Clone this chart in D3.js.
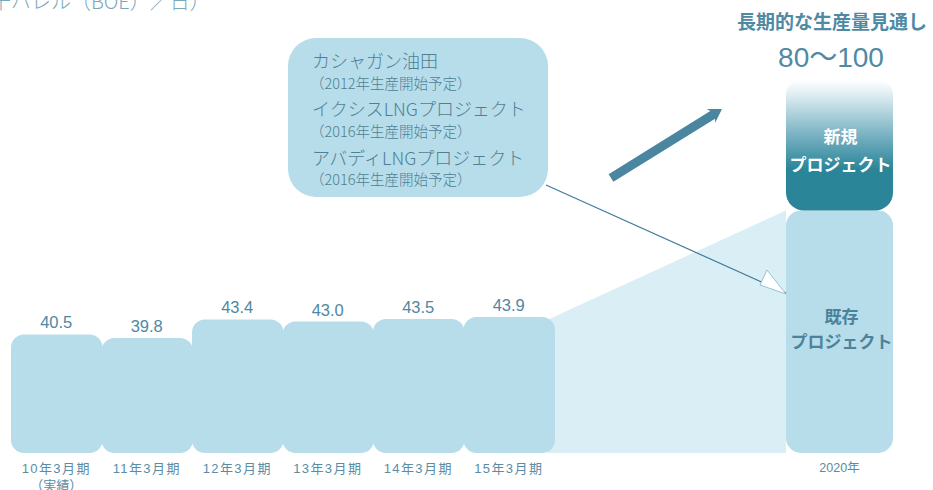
<!DOCTYPE html>
<html>
<head>
<meta charset="utf-8">
<script src="https://cdn.jsdelivr.net/npm/d3@7"></script>
<style>
  html, body { margin: 0; padding: 0; background: #ffffff; }
  svg { display: block; }
</style>
</head>
<body>
<svg id="chart" width="933" height="490"></svg>
<script>
// Production volume (thousand BOE/day) by fiscal period
const categories = ["10年3月期", "11年3月期", "12年3月期", "13年3月期", "14年3月期", "15年3月期"];
const production = [40.5, 39.8, 43.4, 43.0, 43.5, 43.9];
const valueLabels = ["40.5", "39.8", "43.4", "43.0", "43.5", "43.9"];

// 2020 outlook: existing projects plus new projects (range 80–100)
const outlookCategory = ["2020年"];
const outlookExisting = [65];
const outlookRange = [80, 100];
const outlookLabel = "80〜100";

// Projects feeding the new production
const projects = ["カシャガン油田", "イクシスLNGプロジェクト", "アバディLNGプロジェクト"];
const projectNotes = ["（2012年生産開始予定）", "（2016年生産開始予定）", "（2016年生産開始予定）"];

const BAR = "#b6dde9";
const WEDGE = "#daeef5";
const DARK = "#2b8599";
const TEXT = "#4f88a2";
const JP = "'Noto Sans CJK JP', 'Noto Sans', sans-serif";
const NUM = "'Liberation Sans', 'Noto Sans CJK JP', sans-serif";

const svg = d3.select("#chart");
const baseY = 453;

// Scales
const x = d3.scaleBand().domain(categories).range([11, 554]).padding(0);
const y = d3.scaleLinear().domain([17.5, 42.35]).range([baseY, 324.9]);
const xOut = d3.scaleBand().domain(outlookCategory).range([786, 893]);
const yOut = d3.scaleLinear().domain([0, 100]).range([baseY, 80]);

// Unit text (runs off the top edge)
svg.append("text")
  .attr("x", -9).attr("y", 9)
  .attr("font-family", JP).attr("font-size", 20).attr("font-weight", 300)
  .attr("fill", "#7aa8bb")
  .text("千バレル（BOE）／日）");

// Wedge linking the last period to the 2020 column
const last = production.length - 1;
const wedgeTopLeft = [x(categories[last]) + x.bandwidth() - 7, y(production[last]) + 3];
const wedgeTopRight = [xOut(outlookCategory[0]), yOut(outlookExisting[0])];
svg.append("path")
  .attr("d", d3.line()([
    wedgeTopLeft, wedgeTopRight,
    [wedgeTopRight[0], baseY], [wedgeTopLeft[0], baseY]
  ]) + "Z")
  .attr("fill", WEDGE);

function roundedTop(x0, y0, w, h, rt, rb) {
  const p = d3.path();
  p.moveTo(x0 + rt, y0);
  p.lineTo(x0 + w - rt, y0);
  p.arcTo(x0 + w, y0, x0 + w, y0 + rt, rt);
  p.lineTo(x0 + w, y0 + h - rb);
  p.arcTo(x0 + w, y0 + h, x0 + w - rb, y0 + h, rb);
  p.lineTo(x0 + rb, y0 + h);
  p.arcTo(x0, y0 + h, x0, y0 + h - rb, rb);
  p.lineTo(x0, y0 + rt);
  p.arcTo(x0, y0, x0 + rt, y0, rt);
  p.closePath();
  return p.toString();
}

// Historical bars
const barW = x.bandwidth() + 1;
svg.append("g").selectAll("path")
  .data(production)
  .join("path")
  .attr("fill", BAR)
  .attr("d", (d, i) => roundedTop(x(categories[i]), y(d), barW, baseY - y(d), 13, 13));

// Value labels
svg.append("g").selectAll("text")
  .data(production)
  .join("text")
  .attr("x", (d, i) => x(categories[i]) + x.bandwidth() / 2)
  .attr("y", d => y(d) - 6)
  .attr("text-anchor", "middle")
  .attr("font-family", NUM).attr("font-size", 16.5)
  .attr("fill", TEXT)
  .text((d, i) => valueLabels[i]);

// Category labels
svg.append("g").selectAll("text")
  .data(categories)
  .join("text")
  .attr("x", d => x(d) + x.bandwidth() / 2)
  .attr("y", 473)
  .attr("text-anchor", "middle")
  .attr("font-family", NUM).attr("font-size", 13)
  .attr("letter-spacing", 1.4)
  .attr("fill", "#5a8ca3")
  .text(d => d);
svg.append("text")
  .attr("x", x(categories[0]) + x.bandwidth() / 2)
  .attr("y", 490)
  .attr("text-anchor", "middle")
  .attr("font-family", JP).attr("font-size", 13)
  .attr("fill", "#5a8ca3")
  .text("（実績）");

// 2020 column: existing projects
const ox = xOut(outlookCategory[0]);
const ow = xOut.bandwidth();
svg.append("path")
  .attr("fill", BAR)
  .attr("d", roundedTop(ox, yOut(outlookExisting[0]), ow, baseY - yOut(outlookExisting[0]), 15, 15));

// New projects, fading toward the top of the range
const defs = svg.append("defs");
const grad = defs.append("linearGradient")
  .attr("id", "newGrad").attr("x1", 0).attr("y1", 0).attr("x2", 0).attr("y2", 1);
[[0, "#ffffff"], [0.12, "#dcecf1"], [0.42, "#79b2c3"], [0.68, DARK], [1, DARK]]
  .forEach(([o, c]) => grad.append("stop").attr("offset", o).attr("stop-color", c));
const nTop = yOut(outlookRange[1]);
const nBot = yOut(outlookExisting[0]);
svg.append("path")
  .attr("fill", "url(#newGrad)")
  .attr("d", roundedTop(ox, nTop, ow, nBot - nTop, 15, 18));

// Column captions
const cx = ox + ow / 2;
svg.append("text").attr("x", cx + 1).attr("y", 143)
  .attr("text-anchor", "middle").attr("font-family", JP).attr("font-size", 17)
  .attr("font-weight", 700).attr("fill", "#ffffff").text("新規");
svg.append("text").attr("x", cx + 1).attr("y", 171)
  .attr("text-anchor", "middle").attr("font-family", JP).attr("font-size", 17)
  .attr("font-weight", 700).attr("fill", "#ffffff").text("プロジェクト");
svg.append("text").attr("x", cx + 2).attr("y", 323)
  .attr("text-anchor", "middle").attr("font-family", JP).attr("font-size", 17)
  .attr("font-weight", 700).attr("fill", "#4d829c").text("既存");
svg.append("text").attr("x", cx + 2).attr("y", 348)
  .attr("text-anchor", "middle").attr("font-family", JP).attr("font-size", 17)
  .attr("font-weight", 700).attr("fill", "#4d829c").text("プロジェクト");
svg.append("text").attr("x", cx).attr("y", 472)
  .attr("text-anchor", "middle").attr("font-family", NUM).attr("font-size", 12.5)
  .attr("fill", "#5a8ca3").text(outlookCategory[0]);

// Outlook header
svg.append("text").attr("x", 832).attr("y", 29)
  .attr("text-anchor", "middle").attr("font-family", JP).attr("font-size", 19)
  .attr("font-weight", 700).attr("fill", "#4f8aa4").text("長期的な生産量見通し");
svg.append("text").attr("x", 831).attr("y", 67)
  .attr("text-anchor", "middle").attr("font-family", NUM).attr("font-size", 28)
  .attr("fill", "#4f8aa4").text(outlookLabel);

// Growth arrow
const a0 = [611, 178], a1 = [722, 109];
const ang = Math.atan2(a1[1] - a0[1], a1[0] - a0[0]);
const len = Math.hypot(a1[0] - a0[0], a1[1] - a0[1]);
const arrow = svg.append("g")
  .attr("transform", `translate(${a0[0]},${a0[1]}) rotate(${ang * 180 / Math.PI})`);
arrow.append("path")
  .attr("fill", "#4a86a0")
  .attr("d", d3.line()([
    [0, -4.5], [len - 11, -4.5], [len - 13, -8], [len, 0],
    [len - 13, 8], [len - 11, 4.5], [0, 4.5]
  ]) + "Z");

// Connector from project box to existing column
svg.append("line")
  .attr("x1", 546).attr("y1", 185).attr("x2", 786).attr("y2", 293)
  .attr("stroke", "#3f7b9d").attr("stroke-width", 1.2);
svg.append("path")
  .attr("d", d3.line()([[760, 285], [767, 270], [786, 294]]) + "Z")
  .attr("fill", "#ffffff").attr("stroke", "#7fb6c9").attr("stroke-width", 0.8);

// Project callout
svg.append("rect")
  .attr("x", 288).attr("y", 38).attr("width", 260).attr("height", 159)
  .attr("rx", 28).attr("ry", 28).attr("fill", BAR);
const projY = [68, 116, 165];
const noteY = [89, 137, 185];
svg.append("g").selectAll("text")
  .data(projects)
  .join("text")
  .attr("x", 312).attr("y", (d, i) => projY[i])
  .attr("font-family", JP).attr("font-size", 18).attr("font-weight", 300)
  .attr("fill", "#4f7f97")
  .text(d => d);
svg.append("g").selectAll("text")
  .data(projectNotes)
  .join("text")
  .attr("x", 310).attr("y", (d, i) => noteY[i])
  .attr("font-family", JP).attr("font-size", 14.5).attr("font-weight", 300)
  .attr("fill", "#4f7f97")
  .text(d => d);
</script>
</body>
</html>
